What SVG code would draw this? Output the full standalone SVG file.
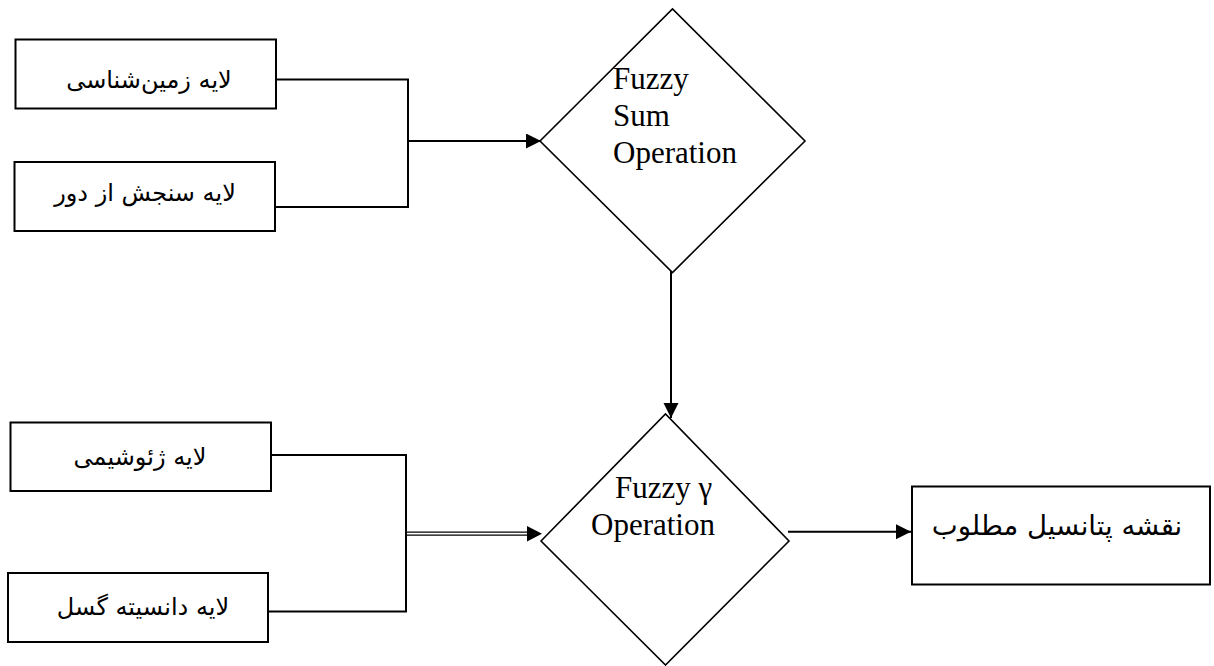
<svg xmlns="http://www.w3.org/2000/svg" width="1214" height="666" viewBox="0 0 1214 666">
  <style>
    .box { fill: #ffffff; stroke: #000000; stroke-width: 2; }
    .dia { fill: #ffffff; stroke: #000000; stroke-width: 1.6; }
    .wire { fill: none; stroke: #000000; stroke-width: 2; }
    .thin { fill: none; stroke: #000000; stroke-width: 1.2; }
    .fa { font-family: "DejaVu Sans", "Noto Sans", sans-serif; font-size: 24px; fill: #000000; text-anchor: middle; direction: rtl; }
    .fa-big { font-size: 27.5px; }
    .en { font-family: "Liberation Serif", "Times New Roman", serif; font-size: 31px; fill: #000000; }
  </style>
  <defs>
    <marker id="arrow" markerUnits="userSpaceOnUse" markerWidth="16" markerHeight="16" refX="15" refY="7.5" orient="auto">
      <path d="M0,0 L15,7.5 L0,15 Z" fill="#000000"/>
    </marker>
  </defs>

  <rect width="1214" height="666" fill="#ffffff"/>

  <!-- connectors -->
  <g id="connectors">
    <path class="wire" d="M276,79.5 H408 V207 H275"/>
    <path class="wire" d="M408,141 H541" marker-end="url(#arrow)"/>
    <path class="wire" d="M271,455 H406 V611.5 H268"/>
    <line class="thin" x1="406" y1="532.2" x2="530" y2="532.2"/>
    <line class="thin" x1="406" y1="535.2" x2="530" y2="535.2"/>
    <path d="M527,526 L542,533.7 L527,541.4 Z" fill="#000000"/>
    <path class="wire" d="M671,265 V418" marker-end="url(#arrow)"/>
    <path class="wire" d="M788,531.7 H911" marker-end="url(#arrow)"/>
  </g>

  <!-- input layers -->
  <g id="geology">
    <rect class="box" x="15.5" y="39.5" width="260.5" height="69"/>
    <text class="fa" x="149" y="88">لایه زمین‌شناسی</text>
  </g>
  <g id="remote-sensing">
    <rect class="box" x="14.5" y="162" width="260.5" height="69"/>
    <text class="fa" x="145" y="201">لایه سنجش از دور</text>
  </g>
  <g id="geochemistry">
    <rect class="box" x="10.5" y="422.5" width="260.5" height="68.5"/>
    <text class="fa" x="140" y="465">لایه ژئوشیمی</text>
  </g>
  <g id="fault-density">
    <rect class="box" x="8" y="573" width="260" height="69"/>
    <text class="fa" x="143" y="615">لایه دانسیته گسل</text>
  </g>

  <!-- operators -->
  <g id="fuzzy-sum">
    <polygon class="dia" points="540,141 672.5,9 805,141 672.5,272.5"/>
    <text class="en" x="613" y="89">Fuzzy</text>
    <text class="en" x="613" y="126">Sum</text>
    <text class="en" x="613" y="163">Operation</text>
  </g>
  <g id="fuzzy-gamma">
    <polygon class="dia" points="541,541 665.5,414 789,541 665.5,665"/>
    <text class="en" x="615" y="498">Fuzzy γ</text>
    <text class="en" x="591" y="535">Operation</text>
  </g>

  <!-- result -->
  <g id="potential-map">
    <rect class="box" x="912" y="486.5" width="298" height="98"/>
    <text class="fa fa-big" x="1057" y="535">نقشه پتانسیل مطلوب</text>
  </g>
</svg>
